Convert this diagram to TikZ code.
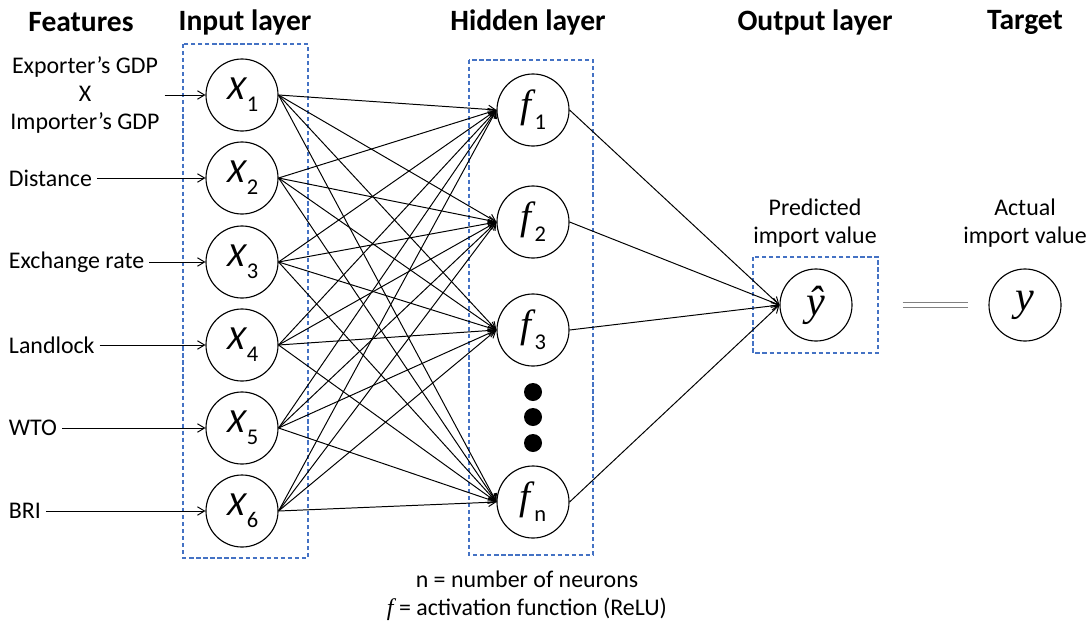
\documentclass[tikz,border=0pt]{standalone}
\usepackage{fontspec}
\setmainfont{Carlito}
\newfontfamily\slantfont{Carlito}[FakeSlant=0.2]
\newfontfamily\varfont{Liberation Serif}
\usetikzlibrary{arrows.meta}
\definecolor{boxblue}{RGB}{68,114,196}
\newcommand{\nsub}[1]{\kern2.5pt\raisebox{-0.35em}{\fontsize{16}{16}\selectfont #1}}
\newcommand{\xvar}[1]{{\slantfont X}\nsub{#1}}
\newcommand{\fvar}[1]{{\fontsize{28}{32}\selectfont\varfont\itshape f}\nsub{#1}}
\tikzset{
	neuron/.style = {circle, draw=black, line width=0.8pt, minimum size=1.8cm, inner sep=0pt, font=\fontsize{24}{28}\selectfont},
	outneuron/.style = {neuron, font=\fontsize{30}{34}\selectfont\varfont\itshape},
	layerbox/.style = {draw=boxblue, line width=0.9pt, dash pattern=on 3pt off 2pt},
	title/.style = {font=\fontsize{21}{25}\selectfont\bfseries},
	feat/.style = {font=\fontsize{17}{20}\selectfont},
	link/.style = {-{Straight Barb[length=5pt,width=6pt]}, line width=0.7pt}
}

\begin{document}
\begin{tikzpicture}[x=0.025cm, y=-0.025cm]
		\useasboundingbox (0,0) rectangle (1089,625);
		% titles
		\node [title] (tfeat) at (81,22) {Features};
		\node [title] (tin) at (245,22) {Input layer};
		\node [title] (thid) at (528,22) {Hidden layer};
		\node [title] (tout) at (815,22) {Output layer};
		\node [title] (ttar) at (1025,22) {Target};
		% layer boxes
		\draw [layerbox] (183,44) rectangle (308,558);
		\draw [layerbox] (469,60) rectangle (593,555);
		\draw [layerbox] (753,257) rectangle (878,353);
		% input layer
		\node [neuron] (x1) at (242,95) {\xvar{1}};
		\node [neuron] (x2) at (242,178) {\xvar{2}};
		\node [neuron] (x3) at (242,262) {\xvar{3}};
		\node [neuron] (x4) at (242,345) {\xvar{4}};
		\node [neuron] (x5) at (242,428) {\xvar{5}};
		\node [neuron] (x6) at (242,511) {\xvar{6}};
		% hidden layer
		\node [neuron] (f1) at (533,110) {\fvar{1}};
		\node [neuron] (f2) at (533,222) {\fvar{2}};
		\node [neuron] (f3) at (533,330) {\fvar{3}};
		\node [neuron] (fn) at (533,502) {\fvar{n}};
		\fill (533,392) circle [radius=0.225cm];
		\fill (533,417) circle [radius=0.225cm];
		\fill (533,443) circle [radius=0.225cm];
		% output and target
		\node [outneuron] (yhat) at (816,305) {ŷ};
		\node [outneuron] (y) at (1025,305) {y};
		\node [feat, align=center] (tpred) at (815,223) {Predicted\\import value};
		\node [feat, align=center] (tact) at (1025,223) {Actual\\import value};
		\draw [double, draw=gray, double distance=2.5pt, line width=0.6pt, shorten <=1.25cm, shorten >=0.5cm] (yhat.east) -- (y.west);
		% features
		\node [feat, align=center] (gdp) at (85,95) {Exporter’s GDP\\X\\Importer’s GDP};
		\node [feat, anchor=west] (dist) at (4,178) {Distance};
		\node [feat, anchor=west] (exch) at (4,262) {Exchange rate};
		\node [feat, anchor=west] (land) at (4,345) {Landlock};
		\node [feat, anchor=west] (wto) at (4,428) {WTO};
		\node [feat, anchor=west] (bri) at (4,511) {BRI};
		\draw [link] (gdp) -- (x1);
		\draw [link] (dist) -- (x2);
		\draw [link] (exch) -- (x3);
		\draw [link] (land) -- (x4);
		\draw [link] (wto) -- (x5);
		\draw [link] (bri) -- (x6);
		% connections
		\foreach \i in {1,...,6}
			\foreach \j in {1,2,3,n}
				\draw [link] (x\i.east) -- (f\j.west);
		\foreach \j in {1,2,3,n}
			\draw [link] (f\j.east) -- (yhat.west);
		% note
		\node [feat, align=center] (note) at (527,596) {n = number of neurons\\{\varfont\itshape f} = activation function (ReLU)};
		\end{tikzpicture}
\end{document}
